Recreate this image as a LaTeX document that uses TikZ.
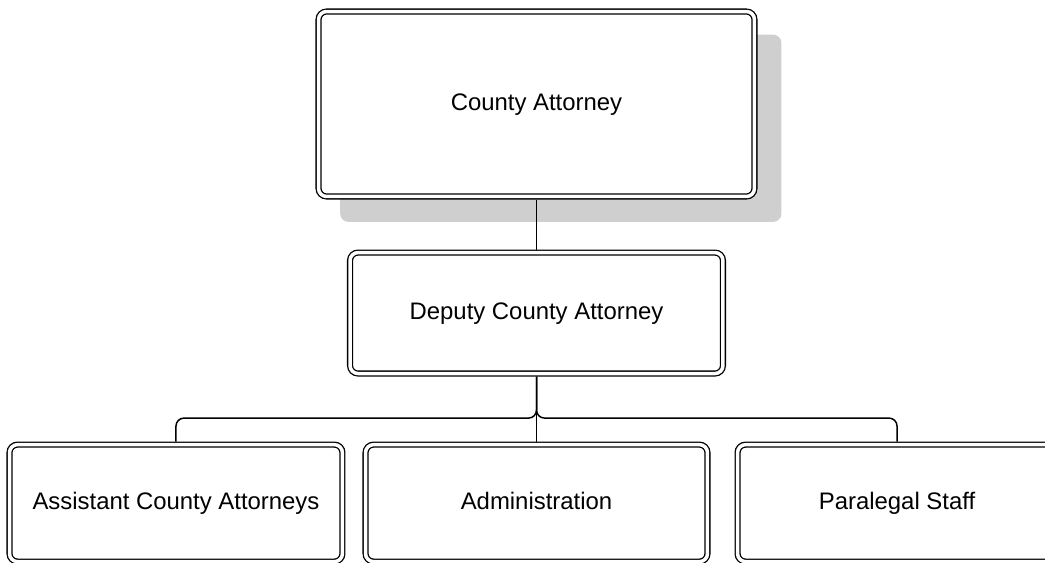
\documentclass[tikz,border=0pt]{standalone}
\usepackage{fontspec}
\setmainfont{Liberation Sans}
\usetikzlibrary{positioning,shadows}

\begin{document}
\begin{tikzpicture}[
    x=0.02cm, y=-0.02cm,
    node distance=1cm,
    box/.style={rectangle, draw, double, double distance=0.07cm, line width=0.026cm, rounded corners=0.16cm, fill=white, align=center, font=\fontsize{13.6}{16}\selectfont, text height=0.92em, text depth=0.2em, outer sep=0.061cm, inner sep=0pt},
    link/.style={draw, line width=0.03cm, rounded corners=0.16cm}
]
\useasboundingbox (0,0) rectangle (1045,563);
\clip (0,0) rectangle (1045,563);

% Top level
\node[box, minimum width=8.72cm, minimum height=3.7cm, drop shadow={shadow xshift=0.48cm, shadow yshift=-0.48cm, shadow scale=1.012, fill=black!19, opacity=1}] (ca) at (536.5,104) {County Attorney};
\node[box, minimum width=7.46cm, minimum height=2.42cm, below=1cm of ca] (dca) {Deputy County Attorney};

% Staff row
\node[box, minimum width=6.84cm, minimum height=2.34cm, below=1.3cm of dca] (adm) {Administration};
\node[box, minimum width=6.66cm, minimum height=2.34cm, left=0.34cm of adm] (aca) {Assistant County Attorneys};
\node[box, minimum width=6.38cm, minimum height=2.34cm, right=0.48cm of adm] (ps) {Paralegal Staff};

% Connectors
\draw[link] (ca) -- (dca);
\draw[link] (dca) -- (adm);
\draw[link] (dca.south) |- ([yshift=0.47cm]aca.north) -- (aca.north);
\draw[link] (dca.south) |- ([yshift=0.47cm]ps.north) -- (ps.north);

\end{tikzpicture}
\end{document}
